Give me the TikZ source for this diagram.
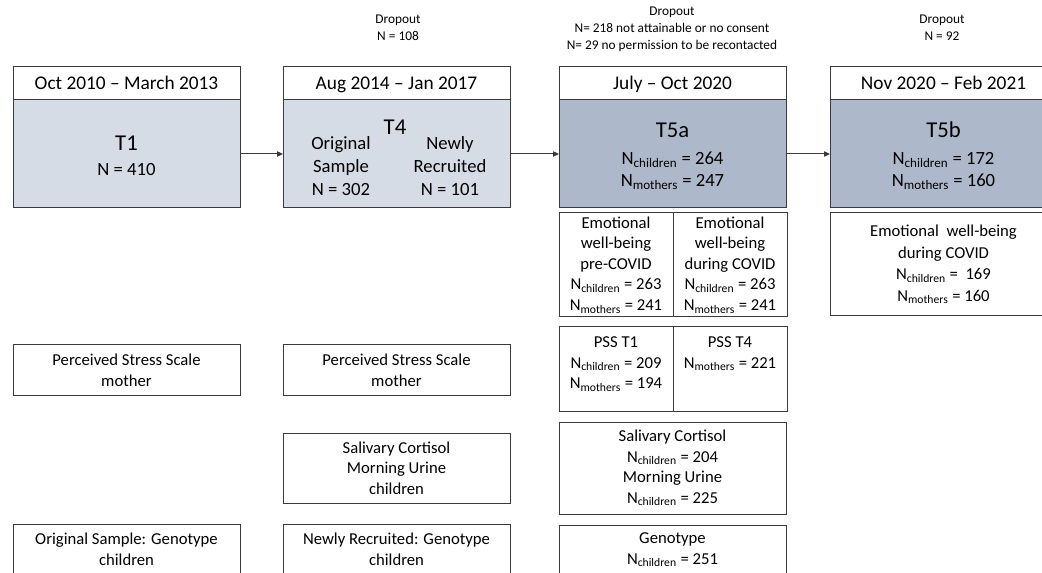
\documentclass[tikz,border=0pt]{standalone}
\usepackage{fontspec}
\setmainfont{Carlito}
\usetikzlibrary{arrows.meta}

\definecolor{lightwave}{HTML}{D6DCE5}
\definecolor{darkwave}{HTML}{ADB9CA}
\definecolor{frame}{HTML}{3A3A3A}

\newcommand{\Nchild}{N\textsubscript{children}}
\newcommand{\Nmoth}{N\textsubscript{mothers}}

\begin{document}
\begin{tikzpicture}[x=0.75pt, y=-0.75pt,
    every node/.style={inner sep=0pt, outer sep=0pt},
    box/.style={draw=frame, line width=0.75pt, rectangle, anchor=north west, align=center},
    datebox/.style={box, fill=white, minimum width=170.25pt, minimum height=24.75pt, text height=9.4pt, text depth=0pt, font=\fontsize{14.5pt}{17pt}\selectfont},
    wavebox/.style={box, minimum width=170.25pt, minimum height=81pt},
    wavename/.style={anchor=base, font=\fontsize{17pt}{20pt}\selectfont},
    wavetext/.style={anchor=base, font=\fontsize{14pt}{17pt}\selectfont},
    column/.style={anchor=north, align=center, font=\fontsize{14pt}{16.9pt}\selectfont},
    celltext/.style={align=center, font=\fontsize{12.5pt}{15.4pt}\selectfont},
    cell/.style={box, fill=white, celltext},
    wide/.style={cell, minimum width=170.25pt},
    half/.style={cell, minimum width=85.5pt},
    dropout/.style={align=center, font=\fontsize{10pt}{12.75pt}\selectfont},
    flow/.style={draw=frame, line width=0.75pt, -{Triangle[length=4.5pt, width=4pt]}}
  ]
  \path[use as bounding box, clip] (0,0) rectangle (1042,573);

  \node[datebox] (d1) at (13,67) {Oct 2010 – March 2013};
  \node[wavebox, fill=lightwave] (w1) at (13,100) {};
  \node[wavename] (w1name) at (126.5,151) {T1};
  \node[wavetext] (w1n) at (126.5,176) {N = 410};

  \node[datebox] (d4) at (283,67) {Aug 2014 – Jan 2017};
  \node[wavebox, fill=lightwave] (w4) at (283,100) {};
  \node[wavename] (w4name) at (395,135) {T4};
  \node[column] (w4orig) at (341,137) {Original\\Sample\\N = 302};
  \node[column] (w4new) at (450,137) {Newly\\Recruited\\N = 101};

  \node[datebox] (d5a) at (559,67) {July – Oct 2020};
  \node[wavebox, fill=darkwave] (w5a) at (559,100) {};
  \node[wavename] (w5aname) at (672.5,138) {T5a};
  \node[wavetext] (w5ach) at (672.5,165) {\Nchild{} = 264};
  \node[wavetext] (w5amo) at (672.5,187) {\Nmoth{} = 247};

  \node[datebox] (d5b) at (830,67) {Nov 2020 – Feb 2021};
  \node[wavebox, fill=darkwave] (w5b) at (830,100) {};
  \node[wavename] (w5bname) at (943.5,138) {T5b};
  \node[wavetext] (w5bch) at (943.5,165) {\Nchild{} = 172};
  \node[wavetext] (w5bmo) at (943.5,187) {\Nmoth{} = 160};

  \draw[flow] (w1) -- (w4);
  \draw[flow] (w4) -- (w5a);
  \draw[flow] (w5a) -- (w5b);

  \node[dropout] (drop4) at (398,27.5) {Dropout\\N = 108};
  \node[dropout] (drop5a) at (672,29) {Dropout\\N= 218 not attainable or no consent\\N= 29 no permission to be recontacted};
  \node[dropout] (drop5b) at (942,27.5) {Dropout\\N = 92};

  \node[half, minimum height=78pt] (emopre) at (559,213) {Emotional\\well-being\\pre-COVID\\\Nchild{} = 263\\\Nmoth{} = 241};
  \node[half, minimum height=78pt] (emodur) at (673,213) {Emotional\\well-being\\during COVID\\\Nchild{} = 263\\\Nmoth{} = 241};
  \node[wide, minimum height=77.25pt, font=\fontsize{12.5pt}{16.2pt}\selectfont] (emo5b) at (830,213) {Emotional~ well-being\\during COVID\\\Nchild{} =~ 169\\\Nmoth{} = 160};

  \node[half, minimum height=63pt] (pss1) at (559,327) {};
  \node[half, minimum height=63pt] (pss4) at (673,327) {};
  \node[celltext, anchor=north] (pss1txt) at (616,337) {PSS T1\\\Nchild{} = 209\\\Nmoth{} = 194};
  \node[celltext, anchor=north] (pss4txt) at (730,337) {PSS T4\\\Nmoth{} = 221};

  \node[wide, minimum height=38.25pt] (stress1) at (13,345) {Perceived Stress Scale\\mother};
  \node[wide, minimum height=38.25pt] (stress4) at (283,345) {Perceived Stress Scale\\mother};

  \node[wide, minimum height=52.5pt] (saliva4) at (283,433) {Salivary Cortisol\\Morning Urine\\children};
  \node[wide, minimum height=69pt] (saliva5a) at (559,422) {Salivary Cortisol\\\Nchild{} = 204\\Morning Urine\\\Nchild{} = 225};

  \node[wide, minimum height=38.25pt] (geno1) at (13,524) {Original Sample: Genotype\\children};
  \node[wide, minimum height=38.25pt] (geno4) at (283,524) {Newly Recruited: Genotype\\children};
  \node[wide, minimum height=37.5pt] (geno5a) at (559,525) {Genotype\\\Nchild{} = 251};
\end{tikzpicture}
\end{document}
